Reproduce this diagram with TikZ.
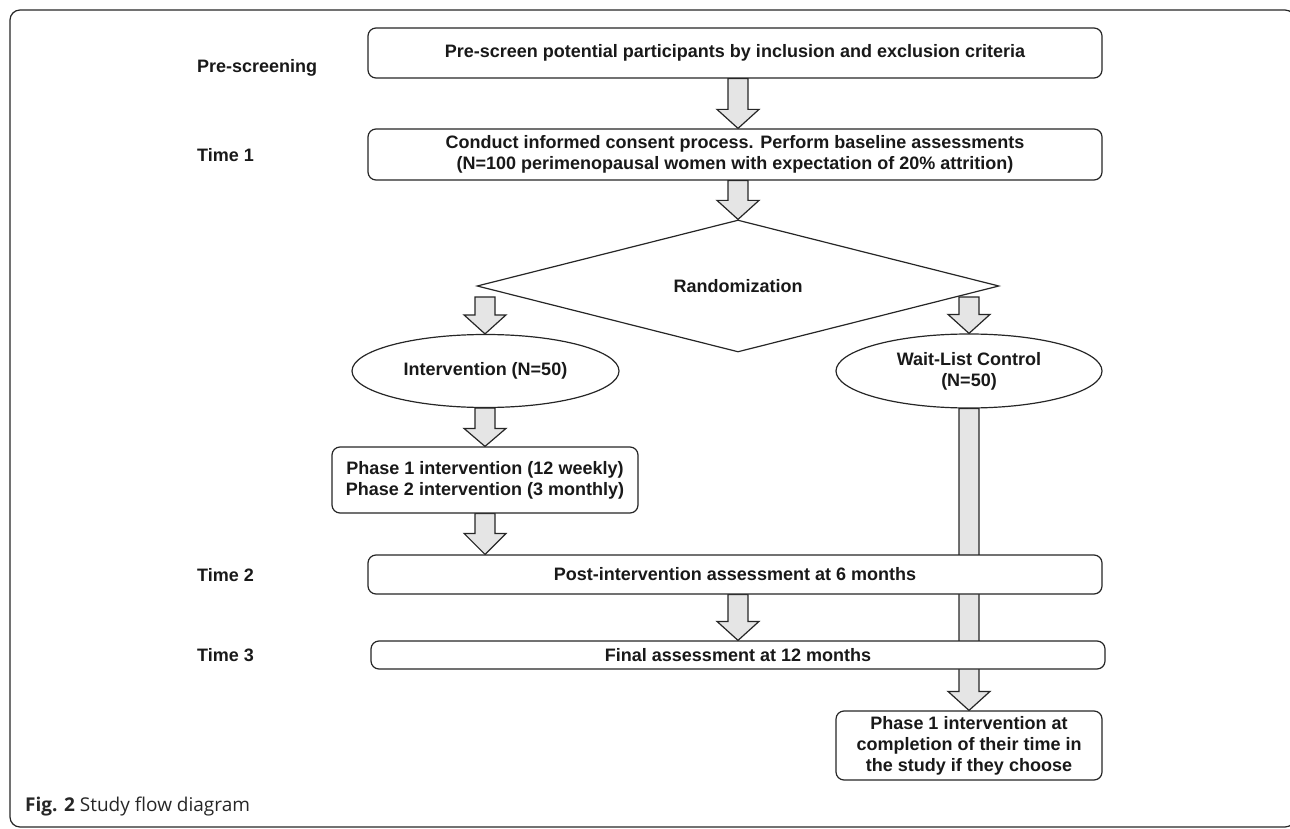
\documentclass[tikz,border=0pt]{standalone}
\usepackage{fontspec}
\setmainfont{Liberation Sans}
\newfontfamily\capfont{Open Sans}
\usetikzlibrary{shapes.geometric,calc}
\pgfdeclarelayer{bg}
\pgfsetlayers{bg,main}
\newcommand{\blockarrow}[4]{% x, start anchor, end anchor, head length
  \path[blockarr] let \p1=(#2), \p2=(#3), \p3=(#1,0) in
    (\x3-10pt,\y1) -- (\x3-10pt,\y2+#4) -- (\x3-21pt,\y2+#4) -- (\x3,\y2)
    -- (\x3+21pt,\y2+#4) -- (\x3+10pt,\y2+#4) -- (\x3+10pt,\y1) -- cycle;}
\begin{document}
\begin{tikzpicture}[x=1pt,y=-1pt,
  line/.style={draw=black!85, line width=1.2pt},
  box/.style={line, rounded corners=8pt, fill=white, align=center, inner sep=0pt,
    font=\fontsize{18}{21}\selectfont\bfseries, text=black!90},
  oval/.style={line, ellipse, fill=white, align=center, inner sep=0pt,
    font=\fontsize{18}{21}\selectfont\bfseries, text=black!90},
  lab/.style={anchor=west, inner sep=0pt, font=\fontsize{18}{21}\selectfont\bfseries, text=black!90},
  blockarr/.style={draw=black!85, line width=1.2pt, fill=black!10, line join=miter}]
\useasboundingbox (0,0) rectangle (1290,829);

% nodes
\node[box, minimum width=734pt, minimum height=50pt] (b1) at (735,53)
  {Pre-screen potential participants by inclusion and exclusion criteria};
\node[box, minimum width=734pt, minimum height=51pt] (b2) at (735,154.5)
  {Conduct informed consent process. Perform baseline assessments\\(N=100 perimenopausal women with expectation of 20\% attrition)};
\node[line, diamond, fill=white, shape aspect=4, minimum width=522pt, minimum height=132pt, inner sep=0pt,
  font=\fontsize{18}{21}\selectfont\bfseries, text=black!90] (rand) at (738,286) {Randomization};
\node[oval, minimum width=267pt, minimum height=73pt] (int) at (485.5,371) {Intervention (N=50)};
\node[oval, minimum width=266pt, minimum height=74pt] (wl) at (969,371) {Wait-List Control\\(N=50)};
\node[box, minimum width=306pt, minimum height=66pt] (ph) at (485,480)
  {Phase 1 intervention (12 weekly)\\Phase 2 intervention (3 monthly)};
\node[box, minimum width=734pt, minimum height=39pt] (t2) at (735,574.5)
  {Post-intervention assessment at 6 months};
\node[box, minimum width=734pt, minimum height=28pt] (t3) at (738,655)
  {Final assessment at 12 months};
\node[box, minimum width=266pt, minimum height=69pt] (fin) at (969,745.5)
  {Phase 1 intervention at\\completion of their time in\\the study if they choose};

\coordinate (dl) at (485,297);
\coordinate (dr) at (969,297);

% labels
\node[lab] (l0) at (197,68) {Pre-screening};
\node[lab] (l1) at (197,155) {Time 1};
\node[lab] (l2) at (197,575) {Time 2};
\node[lab] (l3) at (197,655) {Time 3};

\node[anchor=west, inner sep=0pt, font=\capfont\fontsize{19}{21}\selectfont, text=black!85] (cap) at (25,807)
  {\textbf{Fig. 2} Study flow diagram};

\begin{pgfonlayer}{bg}
\draw[line, rounded corners=10pt] (10,10) rectangle (1295,827);
\blockarrow{738}{b1.south}{b2.north}{19pt}
\blockarrow{738}{b2.south}{rand.north}{19pt}
\blockarrow{485}{dl}{int.north}{19pt}
\blockarrow{969}{dr}{wl.north}{19pt}
\blockarrow{485}{int.south}{ph.north}{18pt}
\blockarrow{485}{ph.south}{t2.north}{21pt}
\blockarrow{738}{t2.south}{t3.north}{19pt}
\blockarrow{969}{wl.south}{fin.north}{19pt}
\end{pgfonlayer}
\end{tikzpicture}
\end{document}
